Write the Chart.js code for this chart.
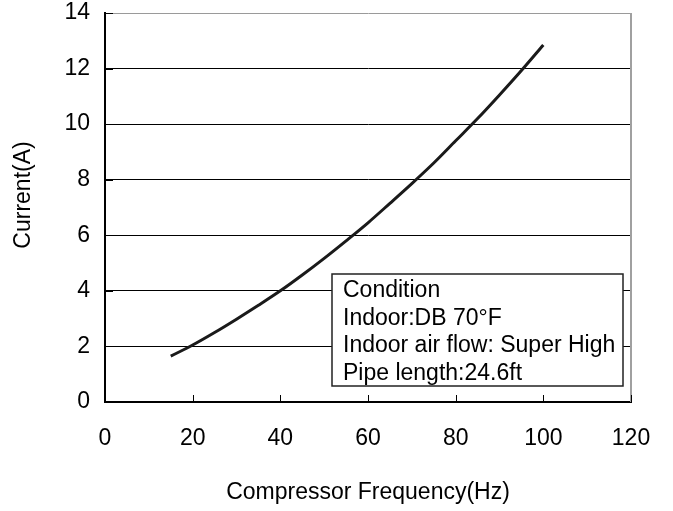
<!DOCTYPE html>
<html><head><meta charset="utf-8">
<script src="https://cdn.jsdelivr.net/npm/chart.js@4"></script>
<style>html,body{margin:0;padding:0;background:#fff}#wrap{width:673px;height:511px}</style>
</head><body><div id="wrap"><canvas id="c" width="673" height="511"></canvas></div>
<script>
const frequencyHz = [15, 20, 25, 30, 35, 40, 45, 50, 55, 60, 65, 70, 75, 80, 85, 90, 95, 100];
const currentA   = [1.65, 2.05, 2.5, 2.98, 3.48, 4.0, 4.57, 5.17, 5.8, 6.45, 7.15, 7.86, 8.6, 9.4, 10.2, 11.05, 11.93, 12.85];
const xTickValues = [0, 20, 40, 60, 80, 100, 120];
const yTickValues = [0, 2, 4, 6, 8, 10, 12, 14];
const xTitle = 'Compressor Frequency(Hz)';
const yTitle = 'Current(A)';
const conditionLines = ['Condition', 'Indoor:DB 70°F', 'Indoor air flow: Super High', 'Pipe length:24.6ft'];

const FONT = "'Liberation Sans', Arial, sans-serif";
const FS = 23;

const decor = {
  id: 'decor',
  afterDraw(chart) {
    const {ctx, chartArea: a, scales: {x, y}} = chart;
    ctx.save();
    // right border (gray)
    ctx.strokeStyle = '#a0a0a0';
    ctx.lineWidth = 2;
    ctx.beginPath(); ctx.moveTo(a.right, a.top); ctx.lineTo(a.right, a.bottom); ctx.stroke();
    // inward ticks on x axis
    ctx.strokeStyle = '#000';
    ctx.lineWidth = 1;
    x.ticks.forEach((t, i) => {
      const px = Math.round(x.getPixelForTick(i)) + 0.5;
      ctx.beginPath(); ctx.moveTo(px, a.bottom); ctx.lineTo(px, a.bottom - 7); ctx.stroke();
    });
    // inward ticks on y axis
    y.ticks.forEach((t, i) => {
      const py = Math.round(y.getPixelForTick(i)) + 0.5;
      ctx.beginPath(); ctx.moveTo(a.left, py); ctx.lineTo(a.left + 8, py); ctx.stroke();
    });
    // y axis title
    ctx.fillStyle = '#000';
    ctx.font = FS + 'px ' + FONT;
    ctx.save();
    ctx.translate(24, 195);
    ctx.rotate(-Math.PI / 2);
    ctx.textAlign = 'center';
    ctx.textBaseline = 'middle';
    ctx.fillText(yTitle, 0, 0);
    ctx.restore();
    // condition box
    const bx = 332, by = 274, bw = 291, bh = 112;
    ctx.fillStyle = '#fff';
    ctx.fillRect(bx, by, bw, bh);
    ctx.strokeStyle = '#222';
    ctx.lineWidth = 1.5;
    ctx.strokeRect(bx, by, bw, bh);
    ctx.fillStyle = '#000';
    ctx.textAlign = 'left';
    ctx.textBaseline = 'alphabetic';
    conditionLines.forEach((s, i) => ctx.fillText(s, bx + 11, by + 23 + i * 27.6));
    ctx.restore();
  }
};

new Chart(document.getElementById('c'), {
  type: 'line',
  data: {
    datasets: [{
      data: frequencyHz.map((f, i) => ({x: f, y: currentA[i]})),
      borderColor: '#1a1a1a',
      borderWidth: 3,
      pointRadius: 0,
      fill: false,
      cubicInterpolationMode: 'monotone'
    }]
  },
  options: {
    responsive: false,
    animation: false,
    devicePixelRatio: 1,
    layout: {padding: {top: 13, right: 42, left: 0, bottom: 0}},
    plugins: {legend: {display: false}, tooltip: {enabled: false}},
    scales: {
      x: {
        type: 'linear', min: 0, max: 120,
        afterBuildTicks: s => { s.ticks = xTickValues.map(v => ({value: v})); },
        afterFit: s => { s.height = 109; s.paddingLeft = 0; s.paddingRight = 0; },
        grid: {display: true, drawOnChartArea: false, drawTicks: false},
        border: {color: '#000', width: 2},
        ticks: {color: '#000', padding: 23, font: {family: FONT, size: FS}, maxRotation: 0},
        title: {display: true, text: xTitle, color: '#000', font: {family: FONT, size: FS}, padding: {top: 0, bottom: 5}}
      },
      y: {
        min: 0, max: 14,
        afterBuildTicks: s => { s.ticks = yTickValues.map(v => ({value: v})); },
        afterFit: s => { s.width = 105; s.paddingTop = 0; s.paddingBottom = 0; },
        grid: {
          drawTicks: false,
          color: c => (c.tick && c.tick.value === 14) ? '#9a9a9a' : '#000',
          lineWidth: 1
        },
        border: {color: '#000', width: 2},
        ticks: {color: '#000', padding: 15, font: {family: FONT, size: FS}},
        title: {display: false}
      }
    }
  },
  plugins: [decor]
});
</script></body></html>
